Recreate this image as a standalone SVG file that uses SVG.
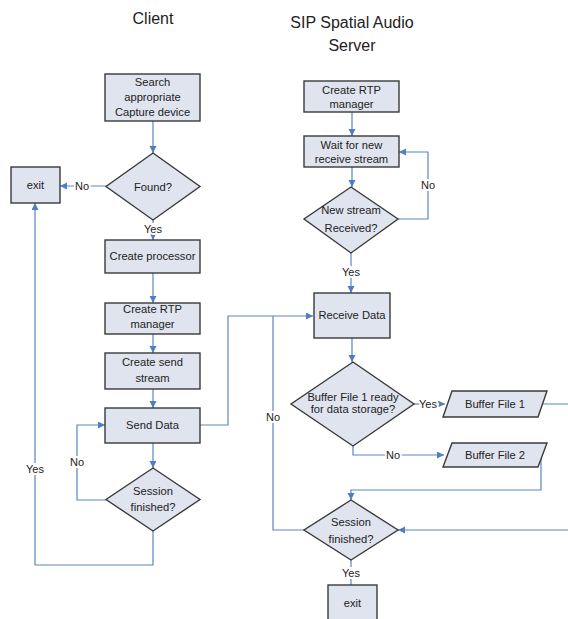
<svg xmlns="http://www.w3.org/2000/svg" width="568" height="619" viewBox="0 0 568 619">
<defs>
<marker id="arr" markerWidth="8" markerHeight="8" refX="7" refY="3.5" orient="auto" markerUnits="userSpaceOnUse">
<path d="M0,0 L7,3.5 L0,7 z" fill="#4f7fc0"/>
</marker>
<style>
.n{fill:#dfe4ef;stroke:#3a3a3a;stroke-width:1.4}
.t{font-family:"Liberation Sans",Arial,sans-serif;font-size:11.2px;fill:#222;text-anchor:middle}
.h{font-family:"Liberation Sans",Arial,sans-serif;font-size:16px;fill:#222;text-anchor:middle}
.c{fill:none;stroke:#5b86c2;stroke-width:1.2}
.a{marker-end:url(#arr)}
.l{font-family:"Liberation Sans",Arial,sans-serif;font-size:11px;fill:#222;text-anchor:middle;stroke:#fff;stroke-width:4;paint-order:stroke}
</style>
</defs>
<rect width="568" height="619" fill="#fff"/>
<g id="titles">
<text class="h" x="153" y="24">Client</text>
<text class="h" x="352" y="28">SIP Spatial Audio</text>
<text class="h" x="352" y="51">Server</text>
</g>
<g id="connectors">
<path class="c a" d="M153,121 V153"/>
<path class="c a" d="M106,186 H60"/>
<path class="c a" d="M153,220 V240"/>
<path class="c a" d="M153,273 V303"/>
<path class="c a" d="M153,334 V353"/>
<path class="c a" d="M153,389 V408"/>
<path class="c a" d="M153,443 V468"/>
<path class="c a" d="M106,500 H77 V425 H105"/>
<path class="c a" d="M153,531 V565 H35 V203"/>
<path class="c a" d="M200,425 H228 V316 H313"/>
<path class="c a" d="M352,112 V136"/>
<path class="c a" d="M352,167 V187"/>
<path class="c a" d="M398,219 H428 V152 H399"/>
<path class="c a" d="M351,253 V293"/>
<path class="c a" d="M352,338 V362"/>
<path class="c a" d="M414,404 H445"/>
<path class="c a" d="M353,446 V455 H444"/>
<path class="c a" d="M542,404 H570 V530 H398"/>
<path class="c a" d="M541,458 V490 H351 V500"/>
<path class="c" d="M304,530 H273 V316"/>
<path class="c" d="M351,560 V585"/>
<text class="l" x="82" y="190">No</text>
<text class="l" x="153" y="233">Yes</text>
<text class="l" x="77" y="466">No</text>
<text class="l" x="35" y="473">Yes</text>
<text class="l" x="428" y="189">No</text>
<text class="l" x="351" y="276">Yes</text>
<text class="l" x="428" y="408">Yes</text>
<text class="l" x="393" y="459">No</text>
<text class="l" x="273" y="421">No</text>
<text class="l" x="351" y="577">Yes</text>
</g>
<g id="n_search"><rect class="n" x="105" y="74" width="95" height="47"/>
<text class="t" x="152.5" y="86">Search</text><text class="t" x="152.5" y="101">appropriate</text><text class="t" x="152.5" y="116">Capture device</text></g>
<g id="n_found"><polygon class="n" points="153,153 200,186.5 153,220 106,186.5"/>
<text class="t" x="153" y="191">Found?</text></g>
<g id="n_exit1"><rect class="n" x="11" y="167" width="49" height="36"/>
<text class="t" x="35.5" y="189">exit</text></g>
<g id="n_proc"><rect class="n" x="105" y="240" width="95" height="33"/>
<text class="t" x="152.5" y="260">Create processor</text></g>
<g id="n_rtp1"><rect class="n" x="105" y="303" width="95" height="31"/>
<text class="t" x="152.5" y="313">Create RTP</text><text class="t" x="152.5" y="328">manager</text></g>
<g id="n_sendstream"><rect class="n" x="105" y="353" width="95" height="36"/>
<text class="t" x="152.5" y="366">Create send</text><text class="t" x="152.5" y="382">stream</text></g>
<g id="n_send"><rect class="n" x="105" y="408" width="95" height="35"/>
<text class="t" x="152.5" y="429">Send Data</text></g>
<g id="n_sess1"><polygon class="n" points="153,468 200,499.5 153,531 106,499.5"/>
<text class="t" x="153" y="495">Session</text><text class="t" x="153" y="511">finished?</text></g>
<g id="n_rtp2"><rect class="n" x="304" y="81" width="95" height="31"/>
<text class="t" x="351.5" y="94">Create RTP</text><text class="t" x="351.5" y="108">manager</text></g>
<g id="n_wait"><rect class="n" x="304" y="136" width="95" height="31"/>
<text class="t" x="351.5" y="149">Wait for new</text><text class="t" x="351.5" y="163">receive stream</text></g>
<g id="n_newstream"><polygon class="n" points="351,187 398,219 351,253 304,219"/>
<text class="t" x="351" y="214">New stream</text><text class="t" x="351" y="232">Received?</text></g>
<g id="n_receive"><rect class="n" x="314" y="293" width="76" height="45"/>
<text class="t" x="352" y="319">Receive Data</text></g>
<g id="n_buffer"><polygon class="n" points="353,362 414,404 353,446 291,404"/>
<text class="t" x="353" y="401">Buffer File 1 ready</text><text class="t" x="353" y="413">for data storage?</text></g>
<g id="n_bf1"><polygon class="n" points="452,391 547,391 538,417 443,417"/>
<text class="t" x="495" y="408">Buffer File 1</text></g>
<g id="n_bf2"><polygon class="n" points="452,443 547,443 538,467 443,467"/>
<text class="t" x="495" y="459">Buffer File 2</text></g>
<g id="n_sess2"><polygon class="n" points="351,500 398,530 351,560 304,530"/>
<text class="t" x="351" y="526">Session</text><text class="t" x="351" y="543">finished?</text></g>
<g id="n_exit2"><rect class="n" x="328" y="585" width="49" height="42"/>
<text class="t" x="352.5" y="607">exit</text></g>
</svg>
